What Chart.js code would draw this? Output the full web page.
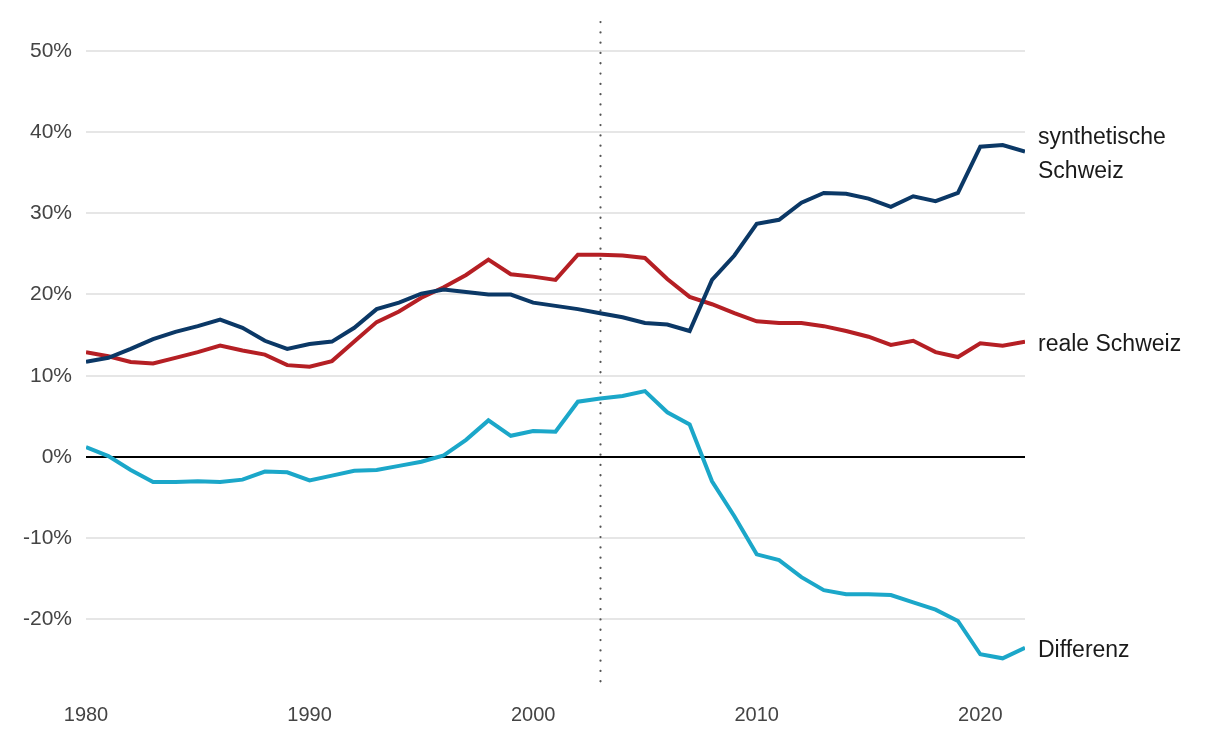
<!DOCTYPE html>
<html>
<head>
<meta charset="utf-8">
<script src="https://cdn.jsdelivr.net/npm/chart.js@4.4.1/dist/chart.umd.min.js"></script>
<style>
  html, body { margin: 0; padding: 0; background: #fff; }
  #wrap { width: 1210px; height: 744px; }
</style>
</head>
<body>
<div id="wrap"><canvas id="chart"></canvas></div>
<script>
// Jahre und Reihen (in %)
const years = [];
for (let y = 1980; y <= 2022; y++) years.push(y);

const synthetisch = [11.7, 12.2, 13.3, 14.5, 15.4, 16.1, 16.9, 15.9, 14.3, 13.3,
  13.9, 14.2, 15.9, 18.2, 19.0, 20.1, 20.6, 20.3, 20.0, 20.0,
  19.0, 18.6, 18.2, 17.7, 17.2, 16.5, 16.3, 15.5, 21.8, 24.8,
  28.7, 29.2, 31.3, 32.5, 32.4, 31.8, 30.8, 32.1, 31.5, 32.5,
  38.2, 38.4, 37.6];

const real = [12.9, 12.4, 11.7, 11.5, 12.2, 12.9, 13.7, 13.1, 12.6, 11.3,
  11.1, 11.8, 14.2, 16.6, 17.9, 19.6, 20.9, 22.4, 24.3, 22.5,
  22.2, 21.8, 24.9, 24.9, 24.8, 24.5, 21.9, 19.7, 18.8, 17.7,
  16.7, 16.5, 16.5, 16.1, 15.5, 14.8, 13.8, 14.3, 12.9, 12.3,
  14.0, 13.7, 14.2];

const differenz = [1.2, 0.1, -1.6, -3.1, -3.1, -3.0, -3.1, -2.8, -1.8, -1.9,
  -2.9, -2.3, -1.7, -1.6, -1.1, -0.6, 0.2, 2.1, 4.5, 2.6,
  3.2, 3.1, 6.8, 7.2, 7.5, 8.1, 5.5, 4.0, -3.0, -7.3,
  -12.0, -12.7, -14.8, -16.4, -16.9, -16.9, -17.0, -17.9, -18.8, -20.2,
  -24.3, -24.8, -23.5];

const seriesLabels = [['synthetische', 'Schweiz'], ['reale Schweiz'], ['Differenz']];
const seriesColors = ['#0b3866', '#b51f24', '#1ba7c9'];
const treatmentYear = 2003;

const toPoints = arr => arr.map((v, i) => ({ x: years[i], y: v }));

// gepunktete Linie beim Eingriffsjahr
const markerLine = {
  id: 'markerLine',
  beforeDatasetsDraw(chart) {
    const { ctx, chartArea, scales } = chart;
    const x = Math.round(scales.x.getPixelForValue(treatmentYear)) + 0.5;
    ctx.save();
    ctx.strokeStyle = '#555';
    ctx.lineWidth = 2.2;
    ctx.lineCap = 'round';
    ctx.setLineDash([0.1, 10.2]);
    ctx.beginPath();
    ctx.moveTo(x, chartArea.top + 2);
    ctx.lineTo(x, chartArea.bottom + 1);
    ctx.stroke();
    ctx.restore();
  }
};

// Beschriftung rechts am Linienende
const endLabels = {
  id: 'endLabels',
  afterDatasetsDraw(chart) {
    const { ctx, chartArea, scales } = chart;
    ctx.save();
    ctx.font = '23px "Liberation Sans", Arial, sans-serif';
    ctx.fillStyle = '#1a1a1a';
    ctx.textAlign = 'left';
    ctx.textBaseline = 'middle';
    chart.data.datasets.forEach((ds, i) => {
      const last = ds.data[ds.data.length - 1];
      const y = scales.y.getPixelForValue(last.y);
      const lines = seriesLabels[i];
      const lh = 34;
      const y0 = y - (lines.length - 1) * lh / 2 + 3;
      lines.forEach((t, k) => ctx.fillText(t, chartArea.right + 13, y0 + k * lh));
    });
    ctx.restore();
  }
};

new Chart(document.getElementById('chart'), {
  type: 'line',
  data: {
    datasets: [
      { data: toPoints(synthetisch), borderColor: seriesColors[0] },
      { data: toPoints(real), borderColor: seriesColors[1] },
      { data: toPoints(differenz), borderColor: seriesColors[2] }
    ].map(d => Object.assign(d, { borderWidth: 4, pointRadius: 0, tension: 0, fill: false }))
  },
  options: {
    responsive: true,
    maintainAspectRatio: false,
    animation: false,
    layout: { padding: { left: 0, right: 185, top: 20, bottom: 0 } },
    plugins: { legend: { display: false }, tooltip: { enabled: false } },
    scales: {
      x: {
        type: 'linear',
        min: 1980,
        max: 2022,
        grid: { display: false },
        border: { display: false },
        ticks: {
          stepSize: 10,
          includeBounds: false,
          padding: 5,
          color: '#444',
          font: { family: '"Liberation Sans", Arial, sans-serif', size: 20 },
          callback: v => String(v)
        },
        afterFit: s => { s.height = 54; s.paddingLeft = 0; s.paddingRight = 0; }
      },
      y: {
        min: -28.7,
        max: 53.8,
        grid: {
          drawTicks: false,
          lineWidth: 2,
          color: c => c.tick && c.tick.value === 0 ? '#000' : '#e6e6e6'
        },
        border: { display: false },
        ticks: {
          stepSize: 10,
          includeBounds: false,
          padding: 14,
          color: '#444',
          font: { family: '"Liberation Sans", Arial, sans-serif', size: 21 },
          callback: v => v + '%'
        },
        afterFit: s => { s.width = 86; s.paddingTop = 0; s.paddingBottom = 0; }
      }
    }
  },
  plugins: [markerLine, endLabels]
});
</script>
</body>
</html>
